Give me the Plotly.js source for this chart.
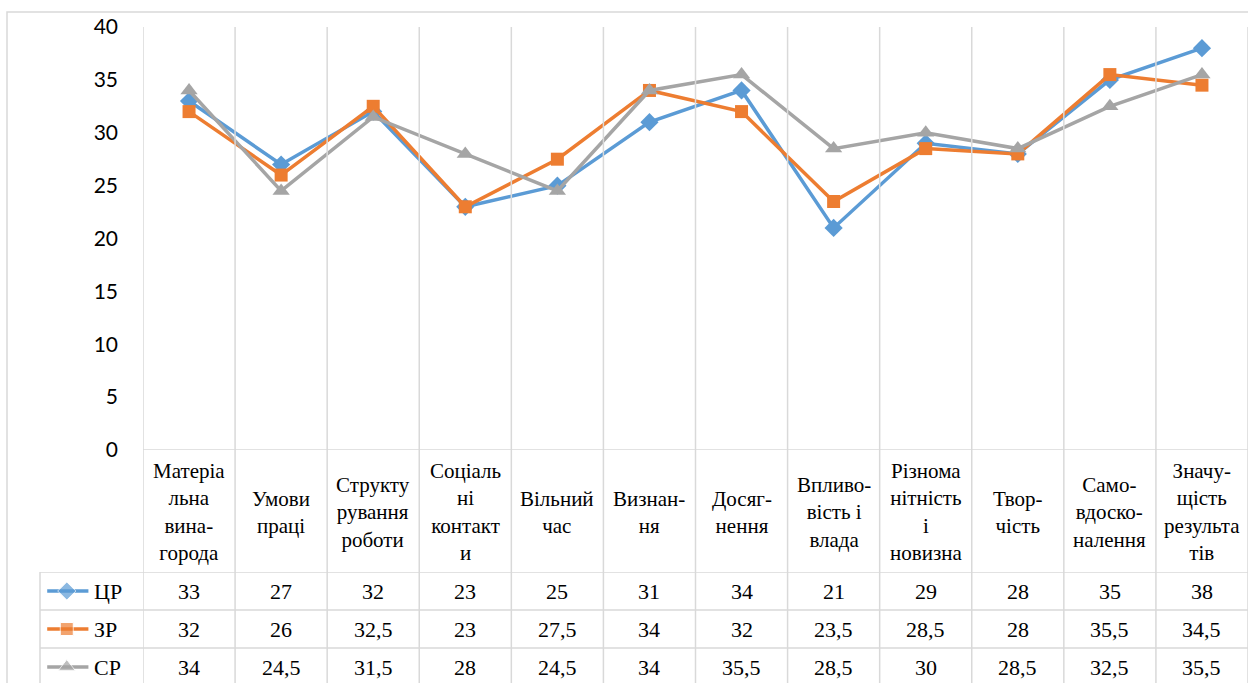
<!DOCTYPE html>
<html>
<head>
<meta charset="utf-8">
<script src="https://cdn.plot.ly/plotly-3.0.1.min.js"></script>
<style>
  html, body { margin: 0; padding: 0; background: #fff; }
  #chart { width: 1248px; height: 683px; }
  /* table text is set in a Times-like serif */
  #chart .annotation-text { font-family: "Liberation Serif", "Times New Roman", "DejaVu Serif", serif !important; }
</style>
</head>
<body>
<div id="chart"></div>
<script>
// Category labels, wrapped the way they appear in the table header row
const categories = [
  "Матеріа<br>льна<br>вина-<br>города",
  "Умови<br>праці",
  "Структу<br>рування<br>роботи",
  "Соціаль<br>ні<br>контакт<br>и",
  "Вільний<br>час",
  "Визнан-<br>ня",
  "Досяг-<br>нення",
  "Впливо-<br>вість і<br>влада",
  "Різнома<br>нітність<br>і<br>новизна",
  "Твор-<br>чість",
  "Само-<br>вдоско-<br>налення",
  "Значу-<br>щість<br>результа<br>тів"
];

const seriesNames = ["ЦР", "ЗР", "СР"];
const valuesCR = [33, 27, 32, 23, 25, 31, 34, 21, 29, 28, 35, 38];
const valuesZR = [32, 26, 32.5, 23, 27.5, 34, 32, 23.5, 28.5, 28, 35.5, 34.5];
const valuesSR = [34, 24.5, 31.5, 28, 24.5, 34, 35.5, 28.5, 30, 28.5, 32.5, 35.5];

const yTicks = [0, 5, 10, 15, 20, 25, 30, 35, 40];

// Styling
const colors = ["#5B9BD5", "#ED7D31", "#A5A5A5"];
const symbols = ["diamond", "square", "triangle-up"];
const markerSizes = [14, 13, 15];
const gridColor = "#d9d9d9";
const serif = "Liberation Serif";
const sans = "Lato";

const W = 1248, H = 683;
const px = v => v / W;            // horizontal pixel -> paper
const py = v => (H - v) / H;      // vertical pixel (from top) -> paper

const allValues = [valuesCR, valuesZR, valuesSR];
const xIdx = categories.map((_, i) => i);
const fmt = v => String(v).replace(".", ",");

const traces = allValues.map((vals, s) => ({
  type: "scatter",
  mode: "lines+markers",
  name: seriesNames[s],
  x: xIdx,
  y: vals,
  xaxis: "x",
  yaxis: "y",
  line: { color: colors[s], width: 3.5 },
  marker: { color: colors[s], symbol: symbols[s], size: markerSizes[s] },
  cliponaxis: false,
  showlegend: false
}));

// Legend keys inside the data table (own small axes over the key column)
allValues.forEach((_, s) => {
  traces.push({
    type: "scatter",
    mode: "lines+markers",
    x: [0.07, 0.26, 0.47],
    y: [s, s, s],
    xaxis: "x2",
    yaxis: "y2",
    line: { color: colors[s], width: 3.5 },
    marker: { color: colors[s], symbol: symbols[s], size: [0, markerSizes[s], 0] },
    hoverinfo: "skip",
    showlegend: false
  });
});

const shapes = [];
const annotations = [];

// outer chart border
shapes.push({ type: "rect", xref: "paper", yref: "paper",
  x0: px(7), x1: px(1260), y0: py(700), y1: py(12),
  line: { color: gridColor, width: 1.5 } });

// vertical gridlines at category boundaries, running through the table
for (let i = 0; i <= categories.length; i++) {
  shapes.push({ type: "line", xref: "x", yref: "paper",
    x0: i - 0.5, x1: i - 0.5, y0: -0.02, y1: py(27),
    line: { color: gridColor, width: 1.5 } });
}

// category axis line
shapes.push({ type: "line", xref: "x", yref: "y",
  x0: -0.5, x1: categories.length - 0.5, y0: 0, y1: 0,
  line: { color: gridColor, width: 1.5 } });

// table rows: horizontal separators and left border
for (let r = 0; r < seriesNames.length; r++) {
  shapes.push({ type: "line", xref: "paper", yref: "y2",
    x0: px(40), x1: 1, y0: r - 0.5, y1: r - 0.5,
    line: { color: gridColor, width: 1.5 } });
}
shapes.push({ type: "line", xref: "paper", yref: "y2",
  x0: px(40), x1: px(40), y0: -0.5, y1: 3,
  line: { color: gridColor, width: 1.5 } });

// category header labels
categories.forEach((c, i) => {
  annotations.push({ xref: "x", yref: "paper", x: i, y: py(512),
    text: c, showarrow: false, xanchor: "center", yanchor: "middle",
    align: "center", font: { family: serif, size: 21, color: "#000" } });
});

// table values
allValues.forEach((vals, s) => {
  vals.forEach((v, i) => {
    annotations.push({ xref: "x", yref: "y2", x: i, y: s,
      text: fmt(v), showarrow: false, xanchor: "center", yanchor: "middle",
      font: { family: serif, size: 22, color: "#000" } });
  });
  annotations.push({ xref: "x2", yref: "y2", x: 0.5, y: s,
    text: seriesNames[s], showarrow: false, xanchor: "left", yanchor: "middle",
    font: { family: serif, size: 22, color: "#000" } });
});

const layout = {
  width: W, height: H,
  margin: { l: 0, r: 0, t: 0, b: 0, pad: 0 },
  paper_bgcolor: "#fff",
  plot_bgcolor: "rgba(0,0,0,0)",
  showlegend: false,
  xaxis: {
    domain: [px(143), 1],
    range: [-0.5, categories.length - 0.5],
    showgrid: false, zeroline: false, showline: false,
    showticklabels: false, ticks: "", fixedrange: true
  },
  yaxis: {
    domain: [py(450), py(27)],
    range: [0, 40],
    tickvals: yTicks,
    ticktext: yTicks.map(String),
    showgrid: false, zeroline: false, showline: false,
    ticks: "", ticklabelstandoff: 24,
    tickfont: { family: sans, size: 21, color: "#000" },
    fixedrange: true
  },
  xaxis2: {
    domain: [px(40), px(143)], range: [0, 1], anchor: "y2",
    visible: false, fixedrange: true
  },
  yaxis2: {
    domain: [0, py(572)], range: [2.42, -0.5], anchor: "x2",
    visible: false, fixedrange: true
  },
  shapes: shapes,
  annotations: annotations
};

Plotly.newPlot("chart", traces, layout, { staticPlot: true, displayModeBar: false });
</script>
</body>
</html>
